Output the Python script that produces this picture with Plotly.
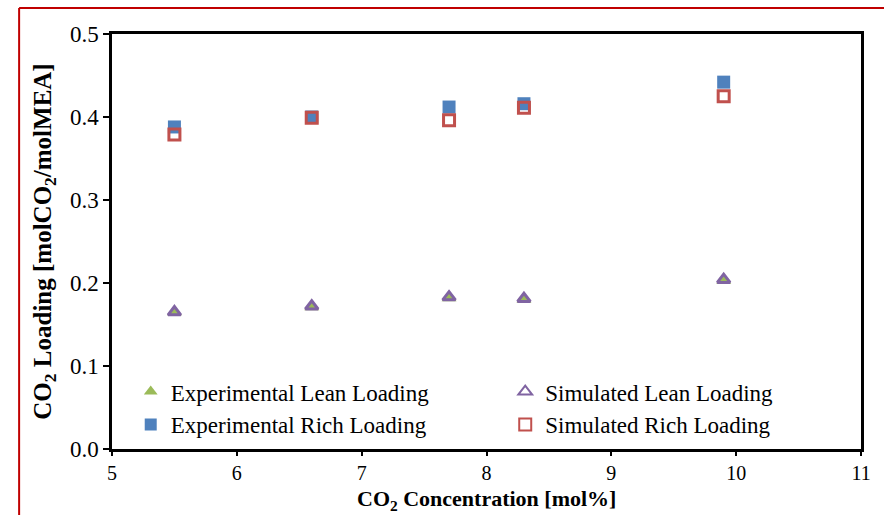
import plotly.graph_objects as go

# CO2 concentration in the feed gas [mol%]
co2_conc = [5.5, 6.6, 7.7, 8.3, 9.9]

# CO2 loading [molCO2/molMEA]
exp_lean = [0.165, 0.171, 0.182, 0.180, 0.203]
sim_lean = [0.165, 0.172, 0.183, 0.181, 0.204]
exp_rich = [0.388, 0.400, 0.412, 0.416, 0.442]
sim_rich = [0.379, 0.399, 0.396, 0.411, 0.425]

x_ticks = [5, 6, 7, 8, 9, 10, 11]
y_ticks = [0.0, 0.1, 0.2, 0.3, 0.4, 0.5]

FONT = "Liberation Serif, Times New Roman, serif"

fig = go.Figure()
fig.add_trace(go.Scatter(
    x=co2_conc, y=exp_lean, mode="markers", name="Experimental Lean Loading",
    legend="legend",
    marker=dict(symbol="triangle-up", size=13, color="#9BBB59", line=dict(width=0)),
))
fig.add_trace(go.Scatter(
    x=co2_conc, y=sim_lean, mode="markers", name="Simulated Lean Loading",
    legend="legend2",
    marker=dict(symbol="triangle-up-open", size=11, color="#8064A2", line=dict(width=3)),
))
fig.add_trace(go.Scatter(
    x=co2_conc, y=exp_rich, mode="markers", name="Experimental Rich Loading",
    legend="legend",
    marker=dict(symbol="square", size=13, color="#4F81BD", line=dict(width=0)),
))
fig.add_trace(go.Scatter(
    x=co2_conc, y=sim_rich, mode="markers", name="Simulated Rich Loading",
    legend="legend2",
    marker=dict(symbol="square-open", size=11, color="#C0504D", line=dict(width=3)),
))

legend_style = dict(
    orientation="v", yanchor="top", xanchor="left", y=0.19,
    font=dict(family=FONT, size=23, color="black"),
    bgcolor="rgba(0,0,0,0)", itemsizing="constant",
    tracegroupgap=0, itemwidth=30,
)

fig.update_layout(
    width=884, height=515,
    margin=dict(l=112, r=23, t=34, b=66),
    paper_bgcolor="white", plot_bgcolor="white",
    font=dict(family=FONT, size=22, color="black"),
    legend=dict(x=0.025, **legend_style),
    legend2=dict(x=0.525, **legend_style),
    xaxis=dict(
        range=[5, 11], tickvals=x_ticks, ticktext=[str(v) for v in x_ticks],
        showgrid=False, zeroline=False, automargin=False,
        showline=True, linecolor="black", linewidth=2.5, mirror=True,
        ticks="outside", ticklen=4, tickwidth=2, tickcolor="black",
        tickfont=dict(family=FONT, size=20),
    ),
    yaxis=dict(
        range=[0, 0.5], tickvals=y_ticks, ticktext=[f"{v:.1f}" for v in y_ticks],
        showgrid=False, zeroline=False, automargin=False,
        showline=True, linecolor="black", linewidth=2.5, mirror=True,
        ticks="outside", ticklen=6, tickwidth=2, tickcolor="black",
        tickfont=dict(family=FONT, size=23),
        title=dict(text="<b>CO<sub>2</sub> Loading [molCO<sub>2</sub>/molMEA]</b>",
                   font=dict(family=FONT, size=25), standoff=12),
    ),
)

# x-axis title, set just below the tick labels
fig.add_annotation(
    text="<b>CO<sub>2</sub> Concentration [mol%]</b>",
    xref="paper", yref="paper", x=0.5, y=-0.0843,
    xanchor="center", yanchor="top", showarrow=False,
    font=dict(family=FONT, size=22, color="black"),
)

# red frame running along the top and left edges of the page
fig.add_shape(type="line", xref="paper", yref="paper",
              x0=-0.124, x1=1.1, y0=1.0627, y1=1.0627,
              line=dict(color="#C00000", width=2))
fig.add_shape(type="line", xref="paper", yref="paper",
              x0=-0.124, x1=-0.124, y0=-0.2, y1=1.0627,
              line=dict(color="#C00000", width=2))

fig.write_html("out.html")
